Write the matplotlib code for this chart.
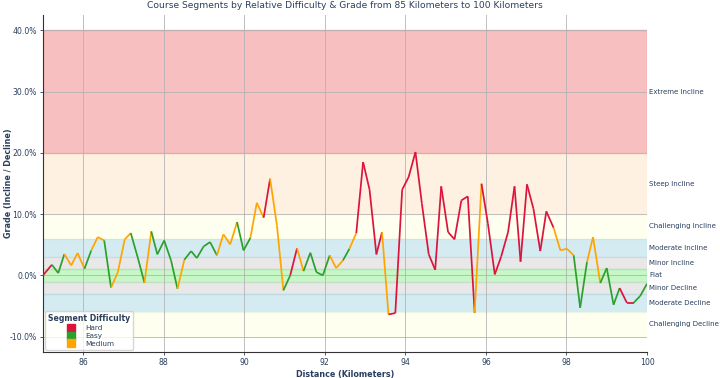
import matplotlib
matplotlib.use('Agg')
import matplotlib.pyplot as plt
from matplotlib.lines import Line2D

# distance (km) and grade (%) at each segment boundary
distance = [85.00, 85.22, 85.38, 85.53, 85.70, 85.86, 86.03, 86.20, 86.36, 86.52,
            86.69, 86.86, 87.03, 87.18, 87.35, 87.52, 87.69, 87.84, 88.01, 88.18,
            88.34, 88.51, 88.68, 88.82, 88.99, 89.15, 89.32, 89.48, 89.65, 89.82,
            89.98, 90.15, 90.31, 90.48, 90.64, 90.81, 90.97, 91.14, 91.31, 91.47,
            91.64, 91.79, 91.95, 92.12, 92.28, 92.45, 92.61, 92.78, 92.95, 93.11,
            93.28, 93.42, 93.58, 93.75, 93.92, 94.08, 94.25, 94.41, 94.58, 94.74,
            94.89, 95.06, 95.22, 95.39, 95.55, 95.72, 95.89, 96.05, 96.22, 96.38,
            96.55, 96.71, 96.86, 97.02, 97.18, 97.35, 97.50, 97.68, 97.85, 98.01,
            98.18, 98.34, 98.51, 98.66, 98.84, 99.00, 99.17, 99.32, 99.50, 99.67,
            99.83, 100.00]
grade = [0.0, 1.74, 0.38, 3.48, 1.63, 3.65, 1.09, 4.08, 6.26, 5.71,
         -2.01, 0.54, 5.88, 6.91, 3.0, -1.2, 7.18, 3.43, 5.7, 2.45,
         -2.18, 2.55, 3.97, 2.83, 4.73, 5.44, 3.27, 6.7, 5.06, 8.71,
         4.08, 6.1, 11.86, 9.42, 15.78, 8.16, -2.45, 0.0, 4.46, 0.7,
         3.7, 0.54, 0.0, 3.27, 1.2, 2.45, 4.35, 6.91, 18.5, 13.99,
         3.43, 7.07, -6.37, -6.15, 13.99, 16.05, 20.14, 11.7, 3.43, 0.92,
         14.53, 7.07, 5.88, 12.24, 12.9, -6.1, 14.97, 8.44, 0.16, 3.1,
         7.07, 14.53, 2.25, 14.86, 10.88, 3.97, 10.45, 7.78, 4.08, 4.35,
         3.27, -5.28, 2.18, 6.26, -1.25, 1.2, -4.79, -2.07, -4.46, -4.46,
         -3.37, -1.36]
# difficulty of each segment (between consecutive points)
difficulty = list(
    "HEEMMMEMMEMMMEEMEE"
    "EEMEEEEEMMMEEMMHMM"
    "EHMEEEEMMEMHHHHMH"
    "HHHHHHHHHHHHMHHHHHHHHHHHMMM"
    "EEMMEEEHHEEM"
)

levels = {'H': 'Hard', 'E': 'Easy', 'M': 'Medium'}
level_colors = {'Hard': '#dc143c', 'Easy': '#2ca02c', 'Medium': '#ffa500'}

band_names = ['Extreme Incline', 'Steep Incline', 'Challenging Incline', 'Moderate Incline',
              'Minor Incline', 'Flat', 'Minor Decline', 'Moderate Decline', 'Challenging Decline']
band_low = [20, 10, 6, 3, 1, -1, -3, -6, -10]
band_high = [40, 20, 10, 6, 3, 1, -1, -3, -6]
band_colors = ['lightcoral', 'bisque', 'lightyellow', 'lightblue', 'lightgray',
               'lightgreen', 'lightgray', 'lightblue', 'lightyellow']

txt = '#2a3f5f'

fig = plt.figure(figsize=(7.2, 3.78), dpi=100)
ax = fig.add_axes([0.0597, 0.0688, 0.8389, 0.8915])

for name, lo, hi, c in zip(band_names, band_low, band_high, band_colors):
    ax.axhspan(lo, hi, color=c, alpha=0.5, zorder=0)
    ax.text(100.05, (lo + hi) / 2, name, fontsize=5.0, color=txt, va='center', ha='left')

for i in range(len(distance) - 1):
    ax.plot(distance[i:i + 2], grade[i:i + 2], color=level_colors[levels[difficulty[i]]],
            lw=1.25, zorder=3, solid_capstyle='butt')

ax.set_xlim(85, 100)
ax.set_ylim(-12.5, 42.5)
ax.set_xticks(range(86, 101, 2))
ax.set_yticks([-10, 0, 10, 20, 30, 40])
ax.set_yticklabels([f'{v:.1f}%' for v in [-10, 0, 10, 20, 30, 40]])
ax.tick_params(labelsize=5.6, colors=txt, length=2.5, width=0.6, pad=2)
ax.grid(True, color='#b0b0b0', lw=0.7, alpha=0.8, zorder=1)
ax.set_axisbelow(True)
for s in ['top', 'right']:
    ax.spines[s].set_visible(False)
for s in ['left', 'bottom']:
    ax.spines[s].set_color('#333333')
    ax.spines[s].set_linewidth(0.8)

ax.set_title('Course Segments by Relative Difficulty & Grade from 85 Kilometers to 100 Kilometers',
             fontsize=6.6, color=txt, pad=5)
ax.set_xlabel('Distance (Kilometers)', fontsize=5.8, fontweight='bold', color=txt, labelpad=2)
ax.set_ylabel('Grade (Incline / Decline)', fontsize=5.8, fontweight='bold', color=txt)
ax.yaxis.set_label_coords(-0.05, 0.5)

handles = [Line2D([], [], marker='s', ls='', markersize=6, color=level_colors[k])
           for k in ['Hard', 'Easy', 'Medium']]
leg = ax.legend(handles, ['Hard', 'Easy', 'Medium'], title='Segment Difficulty', loc='lower left',
                fontsize=5.2, title_fontsize=5.6, frameon=True, borderaxespad=0.3,
                handletextpad=1.0, labelspacing=0.25, borderpad=0.4)
leg.get_title().set_fontweight('bold')
leg.get_title().set_color(txt)
for t in leg.get_texts():
    t.set_color(txt)

fig.savefig('out.png', dpi=100)
